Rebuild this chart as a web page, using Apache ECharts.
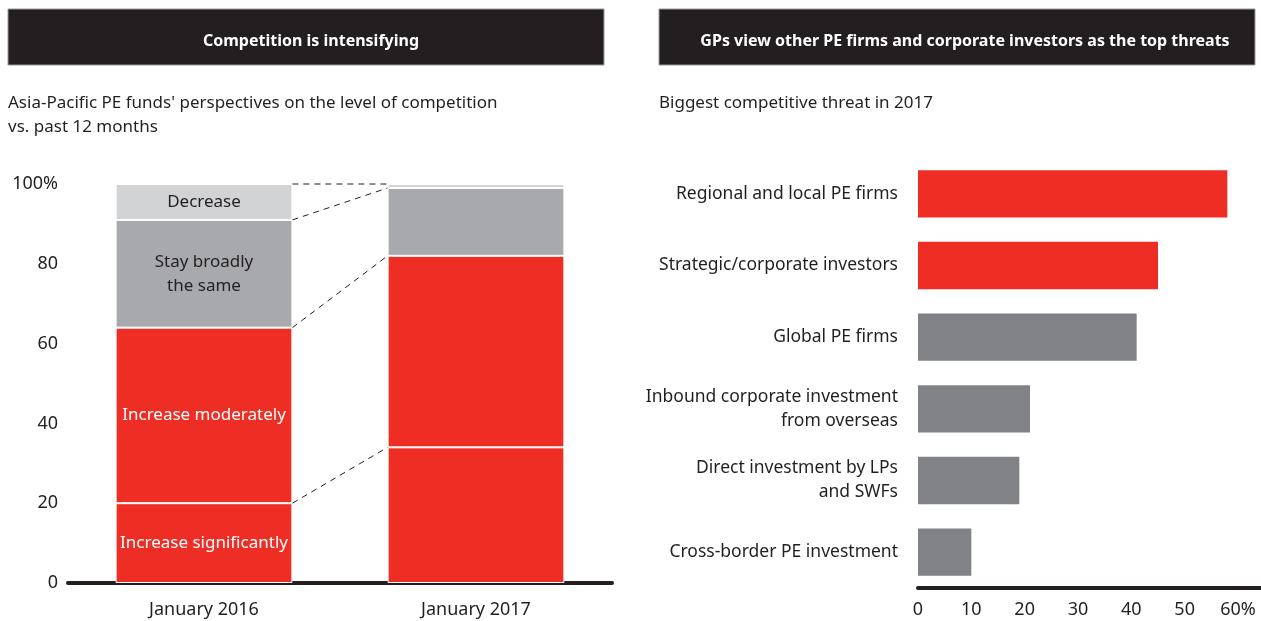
<!DOCTYPE html>
<html>
<head>
<meta charset="utf-8">
<script src="https://cdn.jsdelivr.net/npm/echarts@6/dist/echarts.min.js"></script>
<style>
  html, body { margin: 0; padding: 0; background: #fff; }
  #chart { width: 1261px; height: 621px; }
</style>
</head>
<body>
<div id="chart"></div>
<script>
// 左图：竞争程度（堆叠柱）
var periods = ['January 2016', 'January 2017'];
var incSig = [20, 34];
var incMod = [44, 48];
var stay = [27, 17];
var decrease = [9, 1];
var segLabels = ['Increase significantly', 'Increase moderately', 'Stay broadly\nthe same', 'Decrease'];

// 右图：最大竞争威胁
var threats = [
    'Regional and local PE firms',
    'Strategic/corporate investors',
    'Global PE firms',
    'Inbound corporate investment\nfrom overseas',
    'Direct investment by LPs\nand SWFs',
    'Cross-border PE investment'
];
var threatValues = [58, 45, 41, 21, 19, 10];
var threatColors = ['#EE2E24', '#EE2E24', '#808285', '#808285', '#808285', '#808285'];

var FONT = 'Noto Sans';
var DARK = '#231F20';
var BAR_PCT = 0.65;

var container = echarts.init(document.getElementById('chart'));

// 堆叠边界（用于虚线连接）
var segs = [incSig, incMod, stay, decrease];
var bounds = [];
var c16 = 0, c17 = 0;
for (var i = 0; i < segs.length; i++) {
    c16 += segs[i][0];
    c17 += segs[i][1];
    bounds.push([0, c16, c17]);
}

function stackSeries(name, data, color, labelText, labelColor) {
    return {
        name: name,
        type: 'bar',
        stack: 'total',
        barWidth: (BAR_PCT * 100) + '%',
        xAxisIndex: 0,
        yAxisIndex: 0,
        itemStyle: { color: color, borderColor: '#fff', borderWidth: 1 },
        data: data.map(function (v, idx) {
            if (idx === 0) {
                return {
                    value: v,
                    label: {
                        show: true,
                        position: 'inside',
                        formatter: labelText,
                        color: labelColor,
                        fontFamily: FONT,
                        fontSize: 17,
                        lineHeight: 24
                    }
                };
            }
            return v;
        })
    };
}

var option = {
    animation: false,
    textStyle: { fontFamily: FONT },
    graphic: [
        { type: 'rect', shape: { x: 8, y: 9, width: 596, height: 56 }, style: { fill: DARK, stroke: '#9a9a9a', lineWidth: 1 } },
        { type: 'rect', shape: { x: 659, y: 9, width: 596, height: 56 }, style: { fill: DARK, stroke: '#9a9a9a', lineWidth: 1 } }
    ],
    title: [
        { text: 'Competition is intensifying', left: 306, top: 28, textAlign: 'center',
          textStyle: { color: '#fff', fontSize: 16, fontWeight: 'bold', fontFamily: FONT } },
        { text: 'GPs view other PE firms and corporate investors as the top threats', left: 960, top: 28, textAlign: 'center',
          textStyle: { color: '#fff', fontSize: 16, fontWeight: 'bold', fontFamily: FONT } },
        { text: "Asia-Pacific PE funds' perspectives on the level of competition\nvs. past 12 months", left: 3, top: 86,
          textStyle: { color: DARK, fontSize: 17, fontWeight: 'normal', fontFamily: FONT, lineHeight: 24 } },
        { text: 'Biggest competitive threat in 2017', left: 654, top: 86,
          textStyle: { color: DARK, fontSize: 17, fontWeight: 'normal', fontFamily: FONT, lineHeight: 24 } }
    ],
    grid: [
        { left: 68, right: 649, top: 184, bottom: 38 },
        { left: 918, right: 23, top: 158, bottom: 33 }
    ],
    xAxis: [
        {
            type: 'category',
            gridIndex: 0,
            data: periods,
            axisLine: { lineStyle: { color: DARK, width: 4 } },
            axisTick: { show: false },
            axisLabel: { color: DARK, fontSize: 18, fontFamily: FONT, margin: 18 }
        },
        {
            type: 'value',
            gridIndex: 1,
            min: 0,
            max: 60,
            interval: 10,
            splitLine: { show: false },
            axisLine: { show: true, lineStyle: { color: DARK, width: 4 } },
            axisTick: { show: false },
            axisLabel: {
                color: DARK, fontSize: 18, fontFamily: FONT, margin: 13,
                formatter: function (v) { return v === 60 ? '60%' : v; }
            }
        }
    ],
    yAxis: [
        {
            type: 'value',
            gridIndex: 0,
            min: 0,
            max: 100,
            interval: 20,
            splitLine: { show: false },
            axisLine: { show: false },
            axisTick: { show: false },
            axisLabel: {
                color: DARK, fontSize: 18, fontFamily: FONT, margin: 10,
                formatter: function (v) { return v === 100 ? '100%' : v; }
            }
        },
        {
            type: 'category',
            gridIndex: 1,
            inverse: true,
            data: threats,
            axisLine: { show: false },
            axisTick: { show: false },
            axisLabel: { color: DARK, fontSize: 17.5, fontFamily: FONT, margin: 20, lineHeight: 24, align: 'right' }
        }
    ],
    series: [
        stackSeries(segLabels[0], incSig, '#EE2E24', segLabels[0], '#fff'),
        stackSeries(segLabels[1], incMod, '#EE2E24', segLabels[1], '#fff'),
        stackSeries(segLabels[2], stay, '#A7A9AC', segLabels[2], DARK),
        stackSeries(segLabels[3], decrease, '#D1D3D4', segLabels[3], DARK),
        {
            // 虚线连接两根柱子的分段边界
            type: 'custom',
            xAxisIndex: 0,
            yAxisIndex: 0,
            encode: { x: 0, y: [1, 2] },
            data: bounds,
            renderItem: function (params, api) {
                var a = api.coord([0, api.value(1)]);
                var b = api.coord([1, api.value(2)]);
                var half = api.size([1, 0])[0] * BAR_PCT / 2;
                return {
                    type: 'line',
                    shape: { x1: a[0] + half, y1: a[1], x2: b[0] - half, y2: b[1] },
                    style: { stroke: DARK, lineWidth: 1, lineDash: [6, 5] }
                };
            },
            z: 1
        },
        {
            type: 'bar',
            xAxisIndex: 1,
            yAxisIndex: 1,
            barWidth: '66%',
            data: threatValues.map(function (v, idx) {
                return { value: v, itemStyle: { color: threatColors[idx] } };
            })
        }
    ]
};

container.setOption(option);

// 右图横轴线延伸到画布右边缘
var p0 = container.convertToPixel({ xAxisIndex: 1, yAxisIndex: 1 }, [60, threats[threats.length - 1]]);
container.setOption({
    graphic: [
        {}, {},
        { type: 'rect', shape: { x: p0[0], y: 621 - 33 - 2, width: 1261 - p0[0], height: 4 }, style: { fill: DARK } }
    ]
});
</script>
</body>
</html>
